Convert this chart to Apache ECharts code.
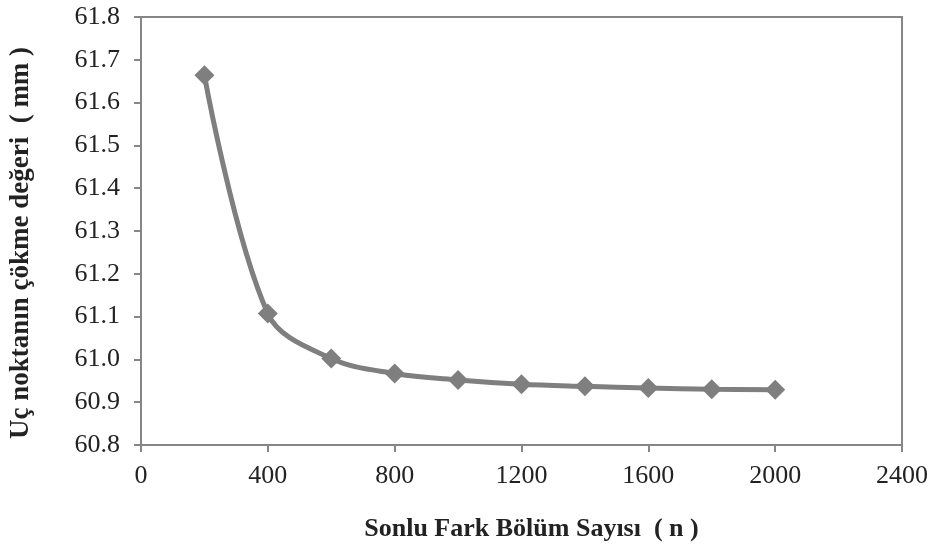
<!DOCTYPE html>
<html><head><meta charset="utf-8">
<script src="https://cdn.jsdelivr.net/npm/echarts@6/dist/echarts.min.js"></script>
<style>html,body{margin:0;padding:0;background:#fff}#c{width:931px;height:547px}</style>
</head><body><div id="c"></div>
<script>
const nValues = [200, 400, 600, 800, 1000, 1200, 1400, 1600, 1800, 2000];
const deflection = [61.664, 61.107, 61.002, 60.967, 60.952, 60.942, 60.937, 60.933, 60.930, 60.929];
const xTitle = 'Sonlu Fark Bölüm Sayısı  ( n )';
const yTitle = 'Uç noktanın çökme değeri  ( mm )';
const axisColor = '#868686';
const font = 'Liberation Serif';
const chart = echarts.init(document.getElementById('c'));
chart.setOption({
  backgroundColor: '#fff',
  animation: false,
  grid: {left: 139, right: 29, top: 17, bottom: 101, show: true, borderColor: axisColor, borderWidth: 2},
  xAxis: {
    type: 'value', min: 0, max: 2400, interval: 400,
    name: xTitle, nameLocation: 'middle', nameGap: 71,
    nameTextStyle: {fontFamily: font, fontSize: 26, fontWeight: 'bold', color: '#222', padding: [0, 0, 0, 20]},
    axisLine: {lineStyle: {color: axisColor, width: 2}},
    axisTick: {show: true, length: 7, lineStyle: {color: axisColor, width: 2}},
    axisLabel: {fontFamily: font, fontSize: 26, color: '#222', margin: 18, formatter: v => String(v)},
    splitLine: {show: false}
  },
  yAxis: {
    type: 'value', min: 60.8, max: 61.8, interval: 0.1,
    name: yTitle, nameLocation: 'middle', nameGap: 106,
    nameTextStyle: {fontFamily: font, fontSize: 27, fontWeight: 'bold', color: '#222', padding: [0, 24, 0, 0]},
    axisLine: {show: true, lineStyle: {color: axisColor, width: 2}},
    axisTick: {show: true, length: 7, lineStyle: {color: axisColor, width: 2}},
    axisLabel: {fontFamily: font, fontSize: 26, color: '#222', margin: 21, formatter: v => v.toFixed(1)},
    splitLine: {show: false}
  },
  series: [{
    type: 'line',
    data: nValues.map((n, i) => [n, deflection[i]]),
    smooth: 0.35,
    symbol: 'diamond', symbolSize: 20,
    lineStyle: {color: '#7f7f7f', width: 5},
    itemStyle: {color: '#7f7f7f'}
  }]
});
</script></body></html>
